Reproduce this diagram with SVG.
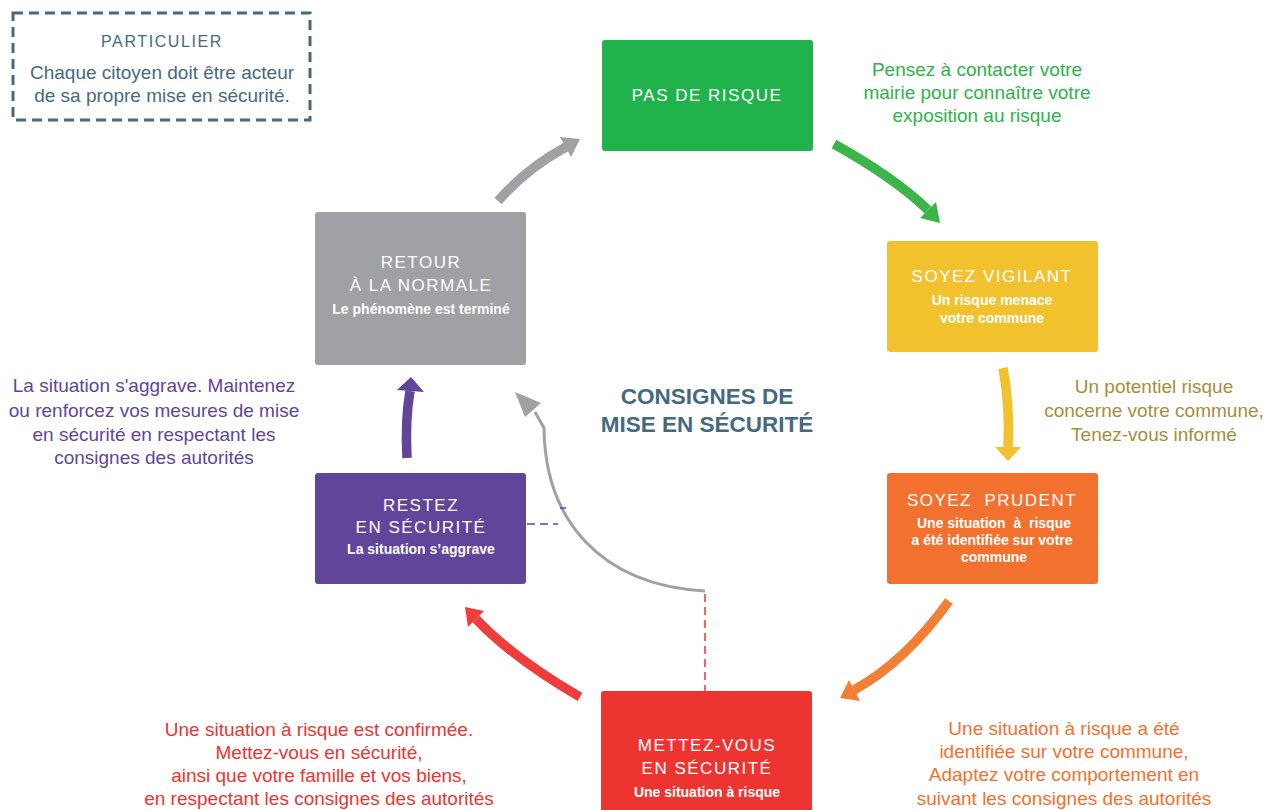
<svg xmlns="http://www.w3.org/2000/svg" width="1266" height="810" viewBox="0 0 1266 810">
<style>
.box{stroke:none}
.title{font-family:"Liberation Sans",Arial,sans-serif;font-size:17px;fill:#ffffff;letter-spacing:1.5px;text-anchor:middle}
.sub{font-family:"Liberation Sans",Arial,sans-serif;font-size:14px;font-weight:bold;fill:#ffffff;text-anchor:middle}
.ann{font-family:"Liberation Sans",Arial,sans-serif;font-size:19px;text-anchor:middle}
.thick{fill:none;stroke-width:9.5;stroke-linecap:butt}
.center{font-family:"Liberation Sans",Arial,sans-serif;font-size:22.5px;font-weight:bold;fill:#456a80;text-anchor:middle}
</style>
<rect width="1266" height="810" fill="#ffffff"/>

<g id="particulier">
  <rect x="13" y="13" width="297" height="107" fill="none" stroke="#456a80" stroke-width="3" stroke-dasharray="10 6"/>
  <text x="162" y="47" font-family="Liberation Sans, Arial, sans-serif" font-size="16" letter-spacing="1.6" fill="#456a80" text-anchor="middle">PARTICULIER</text>
  <text class="ann" x="162" y="79" fill="#456a80" font-size="18">Chaque citoyen doit être acteur</text>
  <text class="ann" x="162" y="102" fill="#456a80" font-size="18">de sa propre mise en sécurité.</text>
</g>

<g id="pas-de-risque">
  <rect class="box" x="602" y="40" width="211" height="111" rx="3" fill="#20b24b"/>
  <text class="title" x="707" y="101">PAS DE RISQUE</text>
</g>

<g id="soyez-vigilant">
  <rect class="box" x="887" y="241" width="211" height="111" rx="3" fill="#f2c12e"/>
  <text class="title" x="992" y="282">SOYEZ VIGILANT</text>
  <text class="sub" x="992" y="305">Un risque menace</text>
  <text class="sub" x="992" y="323">votre commune</text>
</g>

<g id="soyez-prudent">
  <rect class="box" x="887" y="473" width="211" height="111" rx="3" fill="#f3712f"/>
  <text class="title" x="992" y="506">SOYEZ&#160; PRUDENT</text>
  <text class="sub" x="994" y="528">Une situation&#160; à&#160; risque</text>
  <text class="sub" x="992" y="545">a été identifiée sur votre</text>
  <text class="sub" x="994" y="562">commune</text>
</g>

<g id="mettez-vous">
  <rect class="box" x="601" y="691" width="211" height="125" rx="3" fill="#ee3431"/>
  <text class="title" x="707" y="751">METTEZ-VOUS</text>
  <text class="title" x="707" y="774">EN SÉCURITÉ</text>
  <text class="sub" x="707" y="797">Une situation à risque</text>
</g>

<g id="restez">
  <rect class="box" x="315" y="473" width="211" height="111" rx="3" fill="#61459b"/>
  <text class="title" x="421" y="511">RESTEZ</text>
  <text class="title" x="421" y="533">EN SÉCURITÉ</text>
  <text class="sub" x="421" y="554">La situation s’aggrave</text>
</g>

<g id="retour">
  <rect class="box" x="315" y="212" width="211" height="153" rx="3" fill="#a0a1a4"/>
  <text class="title" x="421" y="268">RETOUR</text>
  <text class="title" x="421" y="291">À LA NORMALE</text>
  <text class="sub" x="421" y="314">Le phénomène est terminé</text>
</g>

<g id="consignes">
  <text class="center" x="707" y="404">CONSIGNES DE</text>
  <text class="center" x="707" y="432">MISE EN SÉCURITÉ</text>
</g>

<g id="annotations">
  <g fill="#2db34b">
    <text class="ann" x="977" y="76">Pensez à contacter votre</text>
    <text class="ann" x="977" y="99">mairie pour connaître votre</text>
    <text class="ann" x="977" y="122">exposition au risque</text>
  </g>
  <g fill="#a88d3a">
    <text class="ann" x="1154" y="393">Un potentiel risque</text>
    <text class="ann" x="1154" y="417">concerne votre commune,</text>
    <text class="ann" x="1154" y="441">Tenez-vous informé</text>
  </g>
  <g fill="#61459b">
    <text class="ann" x="154" y="392">La situation s'aggrave. Maintenez</text>
    <text class="ann" x="154" y="417">ou renforcez vos mesures de mise</text>
    <text class="ann" x="154" y="441">en sécurité en respectant les</text>
    <text class="ann" x="154" y="464">consignes des autorités</text>
  </g>
  <g fill="#ee3431">
    <text class="ann" x="319" y="736">Une situation à risque est confirmée.</text>
    <text class="ann" x="319" y="759">Mettez-vous en sécurité,</text>
    <text class="ann" x="319" y="782">ainsi que votre famille et vos biens,</text>
    <text class="ann" x="319" y="805">en respectant les consignes des autorités</text>
  </g>
  <g fill="#f3712f">
    <text class="ann" x="1064" y="735">Une situation à risque a été</text>
    <text class="ann" x="1064" y="758">identifiée sur votre commune,</text>
    <text class="ann" x="1064" y="781">Adaptez votre comportement en</text>
    <text class="ann" x="1064" y="805">suivant les consignes des autorités</text>
  </g>
</g>

<g id="connectors">
  <!-- grey: retour -> pas de risque -->
  <path class="thick" d="M498,201 Q527,168 566,147" stroke="#a0a1a4"/>
  <polygon points="580,139 571,157 560,137" fill="#a0a1a4"/>
  <!-- green -->
  <path class="thick" d="M834,144 Q895,178 928,210" stroke="#3bb54a"/>
  <polygon points="940,223 920,218 936,202" fill="#3bb54a"/>
  <!-- yellow -->
  <path class="thick" d="M1003,368 Q1010,405 1008,448" stroke="#f2c12e"/>
  <polygon points="1008,461 995,447 1021,447" fill="#f2c12e"/>
  <!-- orange -->
  <path class="thick" d="M949,601 Q905,662 854,690" stroke="#f37f36"/>
  <polygon points="840,698 849,680 860,701" fill="#f37f36"/>
  <!-- red -->
  <path class="thick" d="M580,697 Q513,658 476,619" stroke="#ee3d3a"/>
  <polygon points="465,607 484,611 468,627" fill="#ee3d3a"/>
  <!-- purple -->
  <path class="thick" d="M407,458 Q405,420 410,391" stroke="#61459b"/>
  <polygon points="411,377 397,390 424,392" fill="#61459b"/>
  <!-- thin grey return -->
  <path d="M705,591 C600,585 545,520 544,428 L535,412" fill="none" stroke="#a0a1a4" stroke-width="3"/>
  <polygon points="515,392 525,417 541,403" fill="#a0a1a4"/>
  <!-- red dashed -->
  <path d="M705,594 L705,691" fill="none" stroke="#ee3431" stroke-width="1.5" stroke-dasharray="8 5"/>
  <!-- purple dashed -->
  <path d="M527,524 L558,524" fill="none" stroke="#61459b" stroke-width="1.5" stroke-dasharray="8 5"/>
  <path d="M560,508 L566,508" fill="none" stroke="#61459b" stroke-width="1.5"/>
</g>
</svg>
